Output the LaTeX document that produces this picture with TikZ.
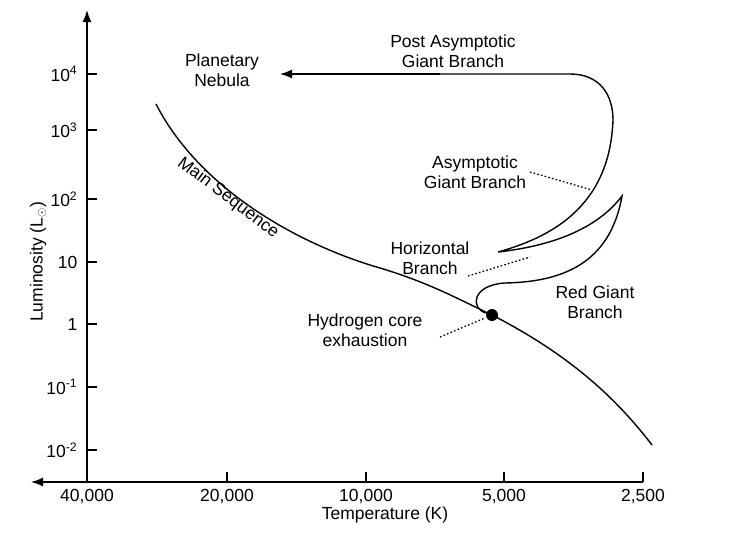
\documentclass[tikz,border=0pt]{standalone}
\usepackage{fontspec}
\setmainfont{Liberation Sans}
\usetikzlibrary{arrows.meta}
\begin{document}
\begin{tikzpicture}[x=1pt,y=-1pt,line width=1.4pt,
  lbl/.style={font=\fontsize{17.5}{20}\selectfont,align=center,inner sep=0pt},
  tip/.style={-{Latex[length=12pt,width=9pt]}},
  dots/.style={dash pattern=on 1.6pt off 2.2pt,line width=1.3pt}]
\useasboundingbox (0,0) rectangle (731,538);
\coordinate (o) at (87,482);
\coordinate (ytop) at (87,10);
\coordinate (xl) at (31,482);
\coordinate (xr) at (643,482);
\draw[tip] (o) -- (ytop);
\draw[tip] (xr) -- (xl);
\foreach \y/\t in {74/10\textsuperscript{4},130/10\textsuperscript{3},199/10\textsuperscript{2},262/10,324/1,387/10\textsuperscript{-1},450/10\textsuperscript{-2}}{
  \draw (87,\y) -- (97,\y);
  \node[lbl,anchor=east] at (78,\y) {\t};}
\foreach \x/\t in {87/40{,}000,227/20{,}000,366/10{,}000,504/5{,}000,643/2{,}500}{
  \draw (\x,482) -- (\x,472);
  \node[lbl] at (\x,497) {\t};}
\node[lbl] (tl) at (385,515) {Temperature (K)};
\node[lbl,rotate=90] (yl) at (38,262) {Luminosity (L$_\odot$)};
% main sequence
\draw (156,104) .. controls (200,190) and (300,245) .. (380,268)
  .. controls (430,283) and (460,300) .. (492,315)
  .. controls (560,350) and (610,390) .. (652,445);
\node[circle,fill,inner sep=0pt,minimum size=12pt] (dot) at (492,315) {};
% red giant / HB / AGB
\draw (dot) .. controls (470,308) and (472,285) .. (505,283)
  .. controls (560,282) and (610,265) .. (622,196)
  .. controls (600,225) and (560,245) .. (498,252)
  .. controls (560,235) and (610,200) .. (613,120)
  .. controls (613,95) and (600,74) .. (570,74)
  -- (440,74);
\coordinate (pend) at (440,74);
\coordinate (ptip) at (280,74);
\draw[tip] (pend) -- (ptip);
\node[lbl] (pn) at (222,70) {Planetary\\Nebula};
\node[lbl] (pagb) at (453,51) {Post Asymptotic\\Giant Branch};
\node[lbl] (agb) at (475,172) {Asymptotic\\Giant Branch};
\node[lbl] (hb) at (430,258) {Horizontal\\Branch};
\node[lbl] (rgb) at (595,302) {Red Giant\\Branch};
\node[lbl] (hce) at (365,330) {Hydrogen core\\exhaustion};
\node[lbl,rotate=-37] (ms) at (228,198) {Main Sequence};
\coordinate (a1) at (530,172); \coordinate (a2) at (592,190);
\coordinate (h1) at (468,276); \coordinate (h2) at (530,257);
\coordinate (c1) at (440,337); \coordinate (c2) at (485,318);
\draw[dots] (a1) -- (a2);
\draw[dots] (h1) -- (h2);
\draw[dots] (c1) -- (c2);
\end{tikzpicture}
\end{document}
